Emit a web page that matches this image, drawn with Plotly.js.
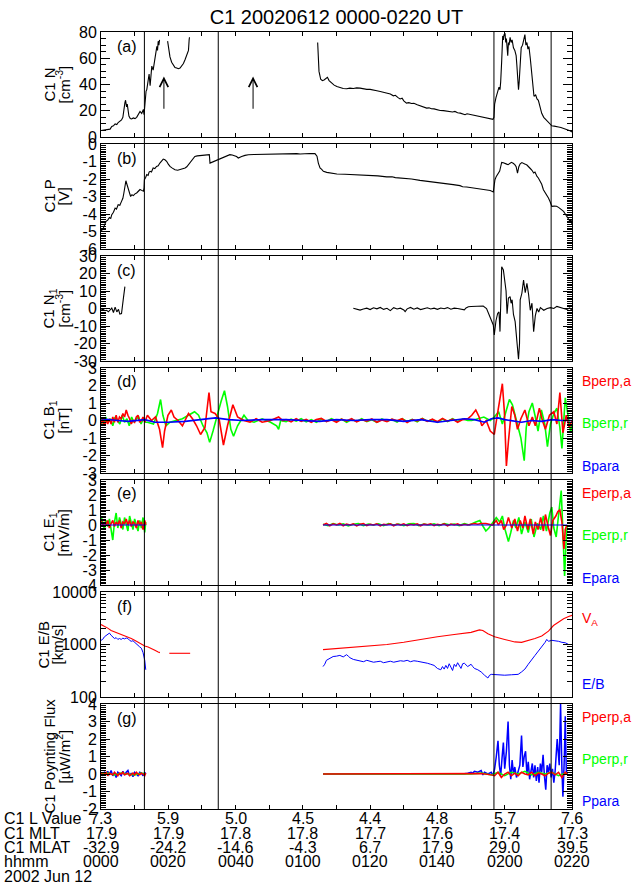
<!DOCTYPE html>
<html><head><meta charset="utf-8">
<script src="https://cdn.plot.ly/plotly-3.0.1.min.js"></script>
<style>html,body{margin:0;padding:0;background:#fff}#chart{width:640px;height:887px}</style>
</head><body><div id="chart"></div>
<script>
// ---------------- DATA (time in minutes after 0000 UT) ----------------
// (a) C1 N [cm-3]
const tN_1=[0,1.5,2.7,3.2,3.7,4.2,4.7,5.1,5.6,6.1,6.5,6.8,7.1,7.3,7.6,7.8,8.1,8.3,8.7,9.1,9.6,10.1,10.6,11.1,11.6,12.1,12.6,12.8,13.1,13.4,13.6,13.9,14.3,14.6,15.1,15.5,16.1,16.6,16.8,17.0,17.2,17.4];
const vN_1=[5,5.5,6,8,8.5,10,9.5,11,12,13,15,22,26,28,23,25,18,16,14,13.7,14.5,14,15,17,19.5,18,21,17,31,35,36,42,48,39,54,51,63,69,66,73,70,74];
const tN_2=[19.8,20.5,21.0,21.5,22.0,22.5,23.0,23.5,24.0,24.5,25.0,25.5,26.0,26.2,26.3];
const vN_2=[73,61,57,55,53,52.5,52,52.5,54,56,59,62.5,66,74,76];
const tN_3=[64.4,64.6,64.8,65.3,65.8,66.3,66.8,67.3,67.8,68.6,69.3,70.1,71,72,73,74,75,76,77,78,79,80,81,82,83,84,85,86,86.9,87.5,88.3,88.9,89.5,90,90.8,91.5,92.3,93,94,94.8,95.5,96.2,96.8,97.5,98.2,99,100,100.8,101.8,102.8,103.6,104.5,105.2,106,106.8,107.5,108.2,108.8,109.5,110.2,111,111.8,112.7,113.5,114.3,115,115.8,116.5,116.8,117.0,117.4,117.8,118.3,118.6,118.8,119.1,119.4,119.6,119.8,120.1,120.3,120.5,120.7,120.9,121.1,121.3,121.6,121.9,122.2,122.6,123.0,123.4,123.6,123.8,124.1,124.3,124.6,124.9,125.3,125.7,126.0,126.3,126.6,126.9,127.2,127.6,128.0,128.4,128.7,129.2,129.6,130.0,130.5,131.0,131.6,132.3,133,133.6,134.0,134.7,135.4,136,136.7,137.4,138.2,138.9,139.4,140];
const vN_3=[72,54,50,44,43,43.5,44.5,45.5,43,41,39.5,38.5,37.5,37,36.8,37.2,37,37.4,37.2,36.5,36.3,36.3,35.5,35.2,34.7,34.2,33.5,32.8,31.4,31.8,30,29,29.5,27.5,25.8,26.2,25.5,25.7,24.5,23.8,23.2,22.5,22,22.2,21.5,21.4,20.5,20.2,20.1,19.8,19.6,19.1,19.5,18.5,18.2,17.3,17,17.7,17.3,17,16.8,16.1,15.7,15.4,15.0,14.5,14,13.5,15,25,30,33,38,36,42,58,77,74,78,79,72,75,64,62,72,70,76,72,74,68,66,62,55,46,36,42,56,68,70,75,78,70,72,67,69,60,50,35,31,32,29,28,23,18,15,13,11.5,10,8.5,8.3,8.2,7.6,7.2,6.6,6,5.2,4.8,3.8];
// (b) C1 P [V]
const tP=[0,0.7,1.5,2.0,2.5,2.9,3.2,3.7,4.2,4.6,5.1,5.6,6.1,6.5,6.8,7.1,7.4,7.7,8.1,8.5,8.8,9.2,9.6,10.1,10.6,11.1,11.6,12.1,12.6,12.8,12.9,13.3,13.6,14.0,14.3,14.6,15.0,15.5,16.0,16.5,17.0,17.5,18.0,18.5,19.0,19.5,20.0,20.5,21.2,22.0,22.8,23.5,24.2,25.0,25.5,26.0,26.5,27.0,27.5,27.9,28.6,29.4,30.1,30.9,31.6,32.2,32.4,32.9,33.4,34.1,34.9,35.6,36.3,37.3,38.3,39.0,39.8,40.3,40.8,41.3,41.8,42.8,43.8,45.5,47.3,49.2,51.2,52.7,54.2,56.2,58.2,59.2,60.5,62.0,63.6,64.2,64.6,65.1,65.6,66.1,67.1,68.1,69.1,70.1,72.5,75,77.5,79.8,82.3,84.9,86.5,87.5,89.9,92.3,94.8,97.3,99.8,102.2,104.7,106.7,107.5,108.7,110.2,111.7,113.2,114.7,115.7,116.6,116.9,117.1,117.5,118.0,118.5,118.8,119.1,119.6,120.1,120.6,121.0,121.5,122.0,122.5,123.0,123.4,123.8,124.2,124.6,125.1,125.6,126.1,126.6,127.1,127.6,128.1,128.6,129.0,129.3,129.6,130.0,130.5,131.0,131.5,132.0,132.5,133.0,133.5,134.0,134.7,135.4,136.0,136.5,137.0,137.5,138.0,138.4,138.9,139.4,139.7,140];
const vP=[-5.0,-4.8,-4.42,-4.35,-4.2,-4.25,-4.04,-3.9,-3.66,-3.72,-3.47,-3.5,-3.28,-3.1,-2.8,-2.4,-2.1,-2.3,-2.6,-2.85,-3.0,-2.9,-2.95,-2.85,-2.8,-2.7,-2.6,-2.65,-2.7,-2.5,-2.04,-1.9,-1.75,-1.8,-1.6,-1.56,-1.6,-1.37,-1.4,-1.28,-1.25,-1.09,-1.0,-0.86,-0.9,-0.99,-1.15,-1.28,-1.38,-1.47,-1.5,-1.47,-1.42,-1.37,-1.3,-1.18,-1.05,-0.9,-0.78,-0.71,-0.68,-0.67,-0.66,-0.65,-0.62,-0.61,-1.09,-1.05,-1.0,-0.92,-0.86,-0.8,-0.76,-0.68,-0.61,-0.63,-0.67,-0.72,-0.8,-0.74,-0.71,-0.65,-0.61,-0.6,-0.59,-0.6,-0.58,-0.6,-0.57,-0.56,-0.55,-0.57,-0.55,-0.54,-0.55,-0.7,-1.09,-1.37,-1.45,-1.56,-1.62,-1.65,-1.68,-1.71,-1.73,-1.75,-1.76,-1.77,-1.82,-1.88,-1.87,-1.92,-1.94,-2.0,-2.08,-2.13,-2.19,-2.26,-2.32,-2.38,-2.44,-2.46,-2.5,-2.53,-2.57,-2.61,-2.66,-2.74,-2.3,-2.04,-1.85,-1.66,-1.55,-1.3,-1.05,-1.07,-1.09,-1.15,-1.18,-1.1,-1.05,-1.1,-1.18,-1.3,-1.66,-1.3,-1.13,-1.06,-1.09,-1.15,-1.2,-1.28,-1.4,-1.5,-1.66,-1.6,-1.78,-1.85,-1.94,-2.1,-2.3,-2.61,-2.75,-2.9,-3.09,-3.3,-3.56,-3.55,-3.56,-3.62,-3.7,-3.75,-3.85,-4.0,-4.13,-4.25,-4.42,-4.3,-4.6];
// (c) C1 N1 [cm-3]
const tN1_1=[0,0.6,1.2,1.7,2.2,2.7,3.2,3.7,4.2,4.7,5.2,5.6,6.1,6.6,7.1];
const vN1_1=[-0.9,-0.5,-1.3,-1.0,-1.9,-0.8,0.2,-2.3,0.8,-1.9,-0.5,-3.2,-2.9,4.9,12.5];
const tN1_2=[75,76,77,78,79,80,81,82,83,84,85,86,87,88,89,90,90.4,91,92,93,94,95,96,97,98,99,100,101,102,103,104,105,106,107,108,108.5,109.2,110,111,112,113,113.6,114.6,115.6,116.6,116.9,117.4,117.9,118.3,118.6,118.8,119.1,119.6,120.1,120.4,120.7,121.1,121.6,121.9,122.2,122.6,123.1,123.6,124.1,124.4,124.6,125.1,125.6,126.1,126.6,127.1,127.6,128.1,128.6,129.1,129.6,130.1,130.6,131.6,132.6,133.6,134.6,135.5,136.5,137.5,138.5,139.3,140];
const vN1_2=[0.1,-0.4,-0.9,-0.3,0.2,-0.6,0.4,-0.2,0.6,-0.5,0.1,-1.2,0.5,-0.3,0.2,-0.8,-1.8,-0.2,0.6,-0.4,0.3,-0.6,0.1,0.4,-0.3,0.2,-0.5,0.3,-0.1,0.5,-0.4,0.2,0.0,-0.6,-0.8,0.3,1.0,1.1,1.2,1.3,1.2,1.4,0,-4.7,-9.4,-15.1,-7,-2.8,-2,-13.2,5,23.9,22,14.4,10,-3,6,6.8,3,5,-3.4,-7.5,-19,-29,-20,4.9,8.7,16.3,9,14.4,8,-1,3,-13.2,-4,0,-2,0.5,-1,0,0.5,0,1.2,0.8,0,-0.5,0.3,-1];
// (d) C1 B1 [nT]
const tBa=[0,0.5,1,1.5,2,2.5,3,3.5,4,4.5,5,5.5,6,6.5,7,7.5,8,8.5,9,9.5,10,10.5,11,11.5,12,12.5,13,13.8,15,16.2,17.4,18.3,18.9,19.9,20.9,21.7,22.9,24.2,26,27.2,28.4,29.6,30.9,32.1,32.7,33.9,35.1,36.4,37.6,39.2,40.6,42.5,44.3,46.1,47.9,50.4,52.8,54,55,56.5,58,59.5,61,62.5,64,65.5,67,68.5,70,71.5,73,74.5,76,77.5,79,80.5,82,83.5,85,86.5,88,89.5,91,92.5,94,95.5,97,98.5,100,101.5,103,104.5,106,107.5,109,110.2,111.4,112.4,113.2,114.5,115.7,116.9,117.7,118.5,119.3,119.9,120.5,121.1,122.1,123,123.8,124.8,126,127.2,128.2,129.1,130.3,131.2,132.1,133.3,134.6,135.5,136.4,137.3,138.3,139.2,140];
const vBa=[-0.2,0.1,-0.3,0.0,-0.2,0.1,-0.2,0.2,-0.1,0.3,-0.1,0.2,0.1,0.4,0.2,0.6,0.3,0.1,-0.2,0.0,-0.1,0.2,0.3,-0.1,0.0,0.2,-0.1,0.3,0.0,0.2,-0.5,-1.55,-0.6,0.3,0.6,0.2,0.0,-0.3,0.4,0.1,-0.3,-0.8,-0.4,1.6,0.5,0.4,0.1,-1.4,-0.3,0.9,0.2,0.0,-0.1,0.1,-0.1,0.0,0.2,0.0,0.05,-0.08,0.1,-0.05,0.06,-0.1,0.05,0.12,-0.06,0.04,-0.1,0.08,-0.03,0.1,-0.08,0.05,-0.04,0.09,-0.1,0.03,-0.06,0.08,-0.02,0.1,-0.12,0.05,-0.03,0.1,-0.05,0.08,-0.07,0.12,-0.04,0.08,-0.1,0.05,0.1,0.3,0.6,0.2,-0.3,0.0,-0.6,-0.8,0.2,1.2,2.1,0.5,-2.6,-1.2,0.8,0.3,-0.5,0.1,0.6,-0.3,0.2,-0.3,0.7,0.0,-0.5,0.3,0.5,-0.2,1.6,-0.7,0.3,-0.4,0.0];
const tBr=[0,0.7,1.4,2.1,2.8,3.5,4.2,4.9,5.6,6.3,7,7.7,8.4,9.1,9.8,10.5,11.2,11.9,12.6,13.3,13.8,15.6,16.8,17.7,18.4,19.3,20.5,22.3,24.2,26,27.8,29,30.3,31.5,32.3,33.3,34.5,35.7,36.7,37.6,38.6,39.4,40.6,42.5,43.7,45.5,47.9,50.4,52.2,52.8,53.4,55,56.5,58,59.5,61,62.5,64,65.5,67,68.5,70,71.5,73,74.5,76,77.5,79,80.5,82,83.5,85,86.5,88,89.5,91,92.5,94,95.5,97,98.5,100,101.5,103,104.5,106,107.5,109,110.2,112,113.8,115.7,116.9,118.2,119.3,120.5,121.4,122.3,123.3,124.2,124.8,125.8,126.4,127.2,128.2,129.1,129.9,130.9,131.9,132.7,133.6,134.6,135.5,136.4,137,138,138.8,139.6,140];
const vBr=[0.1,-0.2,0.2,-0.1,0.1,-0.3,0.2,0.0,-0.2,0.3,-0.1,0.1,-0.3,0.2,-0.1,0.1,0.2,-0.2,0.1,-0.1,-0.1,-0.2,0.4,1.2,0.3,-0.3,-0.1,0.0,0.1,0.3,0.5,0.3,-0.3,-0.7,-1.25,-0.6,0.3,1.1,1.7,0.8,-0.5,-0.9,-0.3,0.3,0.0,-0.1,0.1,-0.1,-0.3,-0.5,0.0,-0.06,0.08,-0.04,0.1,-0.08,0.05,-0.1,0.07,-0.05,0.1,-0.03,0.08,-0.1,0.06,-0.05,0.1,-0.07,0.04,-0.1,0.09,-0.04,0.06,-0.09,0.1,-0.05,0.07,-0.08,0.12,-0.04,0.05,-0.1,0.08,-0.06,0.1,-0.05,0.08,0.0,0.0,0.1,0.2,0.0,0.2,0.5,-0.2,0.6,1.2,0.9,0.2,-0.5,-1.0,-2.3,-0.4,0.5,1.0,0.2,-0.6,0.6,-0.2,-1.5,-0.2,0.4,0.7,-0.4,-1.6,1.3,0.3,-0.7,-0.3];
const tBp=[0,2,5,8,11,13,16,20,25,30,34,38,42,48,55,60,65,70,75,80,85,90,95,100,105,108,111,114,116,118,120,122,125,128,131,134,137,140];
const vBp=[0.1,0.05,0.0,-0.05,0.0,0.05,-0.1,-0.1,-0.05,0.05,0.15,0.05,0.0,0.05,0.05,0.0,-0.05,0.05,0.0,0.05,0.05,-0.05,0.05,-0.1,0.05,0.1,0.05,-0.1,0.1,0.15,0.05,0.0,-0.1,0.0,-0.05,0.05,0.0,0.0];
// (e) C1 E1 [mV/m]  (first time segment also used by f and g)
const tS1=[0,0.5,1,1.5,2,2.5,3,3.5,4,4.5,5,5.5,6,6.5,7,7.5,8,8.5,9,9.5,10,10.5,11,11.5,12,12.5,13,13.3];
const vEa_1=[0.3,-0.1,0.2,0.0,0.3,-0.2,0.1,0.3,-0.1,0.2,0.0,0.3,-0.2,0.2,0.1,0.4,0.0,0.3,-0.1,0.2,0.1,-0.2,0.3,0.0,0.2,-0.3,0.3,0.0];
const vEr_1=[0.6,0.2,-0.3,0.3,-0.1,0.4,-0.2,-1.0,0.2,0.8,-0.2,0.5,0.1,-0.3,0.5,0.1,-0.4,0.6,0.2,-0.3,0.4,0.0,-0.4,0.3,-0.2,0.5,-0.5,0.2];
const tEa_2=[66,67,68,69,70,71,72,73,74,75,76,77,78,79,80,81,82,83,84,85,86,87,88,89,90,91,92,93,94,95,96,97,98,99,100,101,102,103,104,105,106,107,108,109,110,111,112,113,114.4,116.3,117.5,118.1,119,119.7,120.5,121.1,122.1,123,123.8,124.6,125.4,126,126.9,127.6,128.5,129.1,129.9,130.7,131.5,132.1,133,133.6,134.3,135.2,135.8,136.4,137,137.6,138,138.5];
const vEa_2=[0.0,0.1,-0.05,0.08,0.0,0.1,-0.05,0.06,0.0,0.08,-0.06,0.05,0.1,-0.04,0.05,0.0,0.08,-0.06,0.05,0.02,0.08,-0.05,0.06,0.0,0.08,-0.04,0.05,0.0,0.07,-0.05,0.06,0.02,0.08,-0.04,0.05,0.0,0.08,-0.05,0.06,0.0,0.07,-0.03,0.05,0.0,0.05,0.1,0.05,0.1,0.1,0.0,0.3,0.0,0.3,-0.3,0.0,0.5,-0.2,0.4,-0.4,0.3,-0.2,0.6,-0.3,0.4,-0.6,0.2,-0.3,0.5,-0.4,0.7,-0.2,-0.7,0.3,0.6,0.9,1.0,0.2,-1.6,-0.3,0.0];
const tEr_2=[66,67.5,69,70.5,72,73.5,75,76.5,78,79.5,81,82.5,84,85.5,87,88.5,90,91.5,93,94.5,96,97.5,99,100.5,102,103.5,105,106.5,108,109.5,111.4,112.6,113.6,114.4,115.3,116.3,117.5,118.5,119.3,120.1,121.1,121.8,122.6,123.3,124.2,125,126,127,127.9,128.7,129.7,130.7,131.5,132.4,133.4,134,134.6,135.3,136,136.8,137.3,137.8,138.3,138.6];
const vEr_2=[0.05,-0.05,0.1,0.0,0.08,-0.06,0.05,0.1,-0.04,0.06,0.0,0.08,-0.05,0.1,0.0,0.06,-0.05,0.08,0.1,-0.04,0.06,0.0,0.08,-0.05,0.1,0.02,0.06,-0.04,0.1,0.0,0.2,0.3,-0.1,-0.4,-0.2,0.1,0.5,0.2,0.6,-0.3,-1.1,-0.5,0.3,-0.2,0.5,-0.6,0.2,-0.5,0.4,-0.8,0.1,-0.3,0.6,-0.4,0.8,1.2,-0.2,-0.8,0.5,2.3,-0.5,-3.4,-0.8,0.0];
const tEp_1=[0,13.3], vEp_1=[0,0];
const tEp_2=[66,138.6], vEp_2=[0,0];
// (f) C1 E/B [km/s]
const tVA_1=[0,1,2,3,4,5,6,7,8,9,10,11,12,13,14,15,16,17,17.5];
const vVA_1=[2400,2250,2050,1850,1750,1650,1550,1450,1380,1300,1200,1100,1000,940,900,850,780,720,700];
const tVA_2=[20.3,23,26.5];
const vVA_2=[680,680,680];
const tVA_3=[66,70,75,80,85,90,95,100,105,110,112.5,113.5,115,117,120,123,125,127,129,131,133,134.5,136,137.5,139,140];
const vVA_3=[800,840,880,930,1000,1100,1250,1400,1550,1700,1900,1850,1600,1400,1250,1120,1100,1180,1300,1450,1800,2300,2700,3100,3400,3600];
const vEB_1=[1200,1250,1400,1500,1550,1650,1500,1400,1300,1350,1250,1300,1250,1320,1280,1330,1300,1200,1150,1180,1100,1000,950,900,850,700,500,330];
const tEB_2=[66,66.5,67,67.5,68,69,70,71,72,73,73.5,74,75,76,77,78,79,80,81,82,83,84,85,86,87,88,89,90,91,92,93,94,95,96,97,98,99,100,101,101.5,102,102.5,103,103.5,104,104.5,105,105.5,106,106.5,107,107.5,108,109,110,110.5,111,112,113,114,115,115.5,116,118,120,122,124,125,126,127,128,129,130,131,132,132.5,133,134,135,136,137,138,139];
const vEB_2=[380,420,500,520,560,590,600,620,580,640,600,560,520,500,490,470,500,480,460,470,480,450,470,480,460,470,490,480,500,470,490,480,470,450,440,420,400,350,330,380,340,400,350,430,360,320,420,380,450,400,350,430,440,380,420,380,350,330,300,260,230,260,270,265,260,265,270,300,340,420,520,620,750,900,1100,1250,1150,1200,1180,1150,1100,1080,1000];
// (g) C1 Poynting Flux [uW/m2]
const vPp_1=[0.05,-0.1,0.1,0.0,0.15,-0.05,0.2,-0.1,0.05,-0.2,0.1,0.0,-0.1,0.15,-0.05,0.1,0.2,-0.1,0.05,-0.15,0.1,0.0,-0.1,0.1,0.05,-0.1,0.1,0.0];
const tPp_2=[66,80,100,108,109,110,110.5,111,112,113,113.5,114,115,116,116.5,117,117.5,118,118.4,118.8,119.2,119.6,120,120.5,121,121.4,121.8,122.2,122.6,123,123.5,124,124.5,125,125.4,125.8,126.2,126.6,127,127.4,127.8,128.2,128.6,129,129.4,129.8,130.2,130.6,131,131.4,131.8,132.2,132.6,133,133.4,133.8,134.2,134.6,135,135.6,136.2,136.6,137,137.3,137.7,138,138.3,138.6];
const vPp_2=[0,0,0,0.02,0.05,0.1,0.05,0.15,0.1,0.2,-0.05,0.1,0.0,0.1,-0.1,0.3,1.0,1.9,0.5,-0.1,0.9,1.8,0.3,1.3,3.0,0.5,-0.3,0.8,0.0,0.4,-0.2,0.1,0.5,2.2,0.4,1.0,1.3,0.0,0.7,-0.3,0.3,0.6,-0.2,0.5,-0.4,0.4,-0.5,0.6,0.1,1.1,-0.1,-0.9,0.5,0.1,0.6,-0.2,0.3,-0.5,0.2,2.0,0.5,4.0,0.3,-1.3,0.8,3.3,0.2,0.0];
const vPa_1=[0.05,-0.05,0.0,0.1,-0.1,0.05,0.0,-0.05,0.1,0.0,-0.1,0.05,0.0,0.1,-0.05,0.0,0.05,-0.1,0.0,0.05,-0.05,0.1,0.0,-0.05,0.05,0.0,-0.1,0.05];
const tPa_2=[66,90,110,113,116,117,118,119,120,121,122,123,124,125,126,127,128,129,130,131,132,133,134,135,136,137,138,138.6];
const vPa_2=[0,0,0,0.03,-0.05,-0.1,0.1,-0.2,0.0,0.1,-0.1,0.05,-0.1,0.1,0.0,-0.05,0.1,-0.1,0.05,0.0,-0.1,0.05,0.1,-0.05,0.1,-0.2,0.1,0.0];
const tPr_1=[0,2,4,6,8,10,12,13.3];
const vPr_1=[0.0,0.05,-0.05,0.05,0.0,-0.05,0.05,0.0];
const tPr_2=[66,100,110,113,116,118,120,122,124,126,128,130,132,134,136,138,138.6];
const vPr_2=[0,0,0,0.05,-0.05,0.1,-0.1,0.1,0.0,0.15,-0.05,0.1,0.0,0.1,-0.1,0.05,0.0];
// event lines (minutes) and arrow positions (panel a)
const eventTimes=[12.9,34.85,116.8,133.8];
const arrowTimes=[18.7,45.2];
// bottom orbit table
const tickTimes=[0,20,40,60,80,100,120,140];
const lValue=['7.3','5.9','5.0','4.5','4.4','4.8','5.7','7.6'];
const mlt=['17.9','17.9','17.8','17.8','17.7','17.6','17.4','17.3'];
const mlat=['-32.9','-24.2','-14.6','-4.3','6.7','17.9','29.0','39.5'];
const hhmm=['0000','0020','0040','0100','0120','0140','0200','0220'];

// ---------------- BUILD ----------------
function joinSeg(segs){const out=[];segs.forEach((s,i)=>{if(i>0)out.push(null);out.push(...s);});return out;}
const RED='#ff0000',GRN='#00ff00',BLU='#0000ff',BLK='#000000';
const traces=[];
const sx=n=>n===1?'':String(n);
function add(x,y,n,color,w){traces.push({type:'scatter',mode:'lines',x:x,y:y,xaxis:'x'+sx(n),yaxis:'y'+sx(n),line:{color:color,width:w},hoverinfo:'skip',showlegend:false,connectgaps:false});}
add(joinSeg([tN_1,tN_2,tN_3]),joinSeg([vN_1,vN_2,vN_3]),1,BLK,1.1);
add(tP,vP,2,BLK,1.1);
add(joinSeg([tN1_1,tN1_2]),joinSeg([vN1_1,vN1_2]),3,BLK,1.1);
add(tBr,vBr,4,GRN,1.6);
add(tBa,vBa,4,RED,1.6);
add(tBp,vBp,4,BLU,1.6);
add(joinSeg([tS1,tEr_2]),joinSeg([vEr_1,vEr_2]),5,GRN,1.6);
add(joinSeg([tS1,tEa_2]),joinSeg([vEa_1,vEa_2]),5,RED,1.6);
add(joinSeg([tEp_1,tEp_2]),joinSeg([vEp_1,vEp_2]),5,BLU,1.2);
add(joinSeg([tVA_1,tVA_2,tVA_3]),joinSeg([vVA_1,vVA_2,vVA_3]),6,RED,1.1);
add(joinSeg([tS1,tEB_2]),joinSeg([vEB_1,vEB_2]),6,BLU,1);
add(joinSeg([tS1,tPp_2]),joinSeg([vPp_1,vPp_2]),7,BLU,1.5);
add(joinSeg([tPr_1,tPr_2]),joinSeg([vPr_1,vPr_2]),7,GRN,1.5);
add(joinSeg([tS1,tPa_2]),joinSeg([vPa_1,vPa_2]),7,RED,1.5);

const W=640,H=887,L=101,R=572,T=32,B=809;
const PH=B-T;
const py=p=>(B-p)/PH;
const px=p=>(p-L)/(R-L);
const tops=[32,144,256,368,480,592,704];
const ph=105;
const FONT='Liberation Sans, Arial, sans-serif';

const panelAxes=[
 {range:[0,80],tickvals:[0,20,40,60,80],ticktext:['0','20','40','60','80'],minor:5},
 {range:[-6,0],tickvals:[-6,-5,-4,-3,-2,-1,0],ticktext:['-6','-5','-4','-3','-2','-1','0'],minor:0.1},
 {range:[-30,30],tickvals:[-30,-20,-10,0,10,20,30],ticktext:['-30','-20','-10','0','10','20','30'],minor:1},
 {range:[-3,3],tickvals:[-3,-2,-1,0,1,2,3],ticktext:['-3','-2','-1','0','1','2','3'],minor:0.1},
 {range:[-4,3],tickvals:[-4,-3,-2,-1,0,1,2,3],ticktext:['-4','-3','-2','-1','0','1','2','3'],minor:0.1},
 {type:'log',range:[2,4],tickvals:[100,1000,10000],ticktext:['100','1000','10000'],minorVals:[200,300,400,500,600,700,800,900,2000,3000,4000,5000,6000,7000,8000,9000]},
 {range:[-2,4],tickvals:[-2,-1,0,1,2,3,4],ticktext:['-2','-1','0','1','2','3','4'],minor:0.1}
];

const layout={width:W,height:H,margin:{l:L,r:W-R,t:T,b:H-B,pad:0},paper_bgcolor:'#fff',plot_bgcolor:'#fff',
 font:{family:FONT,size:15,color:'#000'},showlegend:false,
 title:{text:'C1 20020612 0000-0220 UT',font:{size:20,family:FONT,color:'#000'},x:0.5,xref:'paper',xanchor:'center',y:1-17/H,yref:'container',yanchor:'middle'},
 shapes:[],annotations:[]};

for(let i=0;i<7;i++){
 const n=i+1, s=sx(n);
 const top=tops[i], bot=top+ph;
 layout['xaxis'+s]={domain:[0,1],range:[0,140],anchor:'y'+s,showticklabels:false,ticks:'inside',ticklen:4,tickwidth:1,tickcolor:BLK,tickmode:'linear',tick0:0,dtick:10,
  mirror:'allticks',showline:true,linecolor:BLK,linewidth:1,showgrid:false,zeroline:false,fixedrange:true};
 const pa=panelAxes[i];
 const minor={ticks:'inside',ticklen:5,tickwidth:1,tickcolor:BLK,showgrid:false};
 if(pa.type){minor.tickmode='array';minor.tickvals=pa.minorVals;} else {minor.dtick=pa.minor;minor.tick0=pa.range[0];}
 const ya={domain:[py(bot),py(top)],anchor:'x'+s,range:pa.range,tickmode:'array',tickvals:pa.tickvals,ticktext:pa.ticktext,
  ticks:'inside',ticklen:9,tickwidth:1,tickcolor:BLK,minor:minor,
  mirror:'allticks',showline:true,linecolor:BLK,linewidth:1,showgrid:false,zeroline:false,fixedrange:true,
  tickfont:{size:16,family:FONT,color:BLK}};
 if(pa.type) ya.type=pa.type;
 layout['yaxis'+s]=ya;
 // panel letter
 layout.annotations.push({xref:'paper',yref:'paper',x:px(115),y:py(top+14),xanchor:'left',yanchor:'middle',text:'('+'abcdefg'[i]+')',showarrow:false,font:{size:16,family:FONT,color:BLK}});
}

// y-axis titles (two rotated lines each)
const yTitles=[['C1 N','[cm<sup>-3</sup>]'],['C1 P','[V]'],['C1 N<sub>1</sub>','[cm<sup>-3</sup>]'],['C1 B<sub>1</sub>','[nT]'],['C1 E<sub>1</sub>','[mV/m]'],['C1 E/B','[km/s]'],['C1 Poynting Flux','[µW/m<sup>2</sup>]']];
yTitles.forEach((tt,i)=>{
 const cy=py(tops[i]+ph/2);
 const x1=i===5?43:49, x2=i===5?57:63;
 layout.annotations.push({xref:'paper',yref:'paper',x:px(x1),y:cy,xanchor:'center',yanchor:'middle',textangle:-90,text:tt[0],showarrow:false,font:{size:15,family:FONT,color:BLK}});
 layout.annotations.push({xref:'paper',yref:'paper',x:px(x2),y:cy,xanchor:'center',yanchor:'middle',textangle:-90,text:tt[1],showarrow:false,font:{size:15,family:FONT,color:BLK}});
});

// right-side colour labels
const sideLabels=[
 ['Bperp,a',RED,381],['Bperp,r',GRN,423],['Bpara',BLU,466],
 ['Eperp,a',RED,493],['Eperp,r',GRN,535],['Epara',BLU,578],
 ['V<sub>A</sub>',RED,619],['E/B',BLU,684],
 ['Pperp,a',RED,717],['Pperp,r',GRN,759],['Ppara',BLU,801]];
sideLabels.forEach(sl=>layout.annotations.push({xref:'paper',yref:'paper',x:px(580),y:py(sl[2]),xanchor:'left',yanchor:'middle',text:sl[0],showarrow:false,font:{size:14,family:FONT,color:sl[1]}}));

// arrows in panel (a)
arrowTimes.forEach(t=>layout.annotations.push({xref:'x',yref:'y',x:t,y:46,axref:'x',ayref:'y',ax:t,ay:20,text:' ',showarrow:true,arrowhead:5,arrowsize:1.7,arrowwidth:1,arrowcolor:BLK,standoff:0,startstandoff:0,font:{size:1}}));

// vertical event lines
eventTimes.forEach(t=>layout.shapes.push({type:'line',xref:'x',yref:'paper',x0:t,x1:t,y0:0,y1:1,line:{color:BLK,width:1},layer:'above'}));

// bottom table
const rows=[['C1 L Value',lValue,819],['C1 MLT',mlt,833],['C1 MLAT',mlat,847],['hhmm',hhmm,861]];
rows.forEach(r=>{
 layout.annotations.push({xref:'paper',yref:'paper',x:px(2),y:py(r[2]),xanchor:'left',yanchor:'middle',text:r[0],showarrow:false,font:{size:16,family:FONT,color:BLK}});
 r[1].forEach((v,k)=>layout.annotations.push({xref:'x7',yref:'paper',x:tickTimes[k],y:py(r[2]),xanchor:'center',yanchor:'middle',text:v,showarrow:false,font:{size:16,family:FONT,color:BLK}}));
});
layout.annotations.push({xref:'paper',yref:'paper',x:px(2),y:py(876),xanchor:'left',yanchor:'middle',text:'2002 Jun 12',showarrow:false,font:{size:16,family:FONT,color:BLK}});

Plotly.newPlot('chart',traces,layout,{staticPlot:true,displayModeBar:false});
</script></body></html>
